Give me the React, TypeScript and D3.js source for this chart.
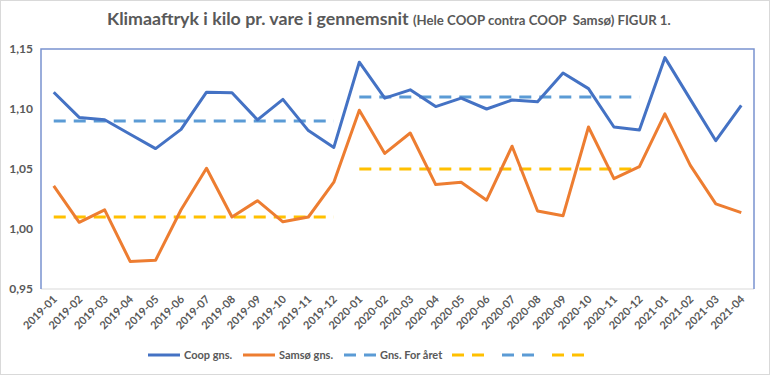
import React from "react";
import * as d3 from "d3";

const months = [
  "2019-01","2019-02","2019-03","2019-04","2019-05","2019-06","2019-07","2019-08","2019-09","2019-10","2019-11","2019-12",
  "2020-01","2020-02","2020-03","2020-04","2020-05","2020-06","2020-07","2020-08","2020-09","2020-10","2020-11","2020-12",
  "2021-01","2021-02","2021-03","2021-04",
];
const coop = [
  1.114,1.093,1.091,1.079,1.067,1.083,1.114,1.1135,1.091,1.108,1.082,1.068,
  1.139,1.109,1.116,1.102,1.109,1.100,1.1075,1.106,1.130,1.117,1.085,1.0825,
  1.1428,1.108,1.0736,1.103,
];
const samso = [
  1.036,1.0056,1.016,0.973,0.974,1.016,1.0506,1.010,1.0236,1.006,1.010,1.039,
  1.099,1.063,1.080,1.037,1.039,1.024,1.069,1.015,1.011,1.085,1.042,1.052,
  1.096,1.053,1.021,1.0136,
];
// yearly averages
const coopAvg2019 = { from: "2019-01", to: "2019-12", value: 1.09 };
const samsoAvg2019 = { from: "2019-01", to: "2019-12", value: 1.01 };
const coopAvg2020 = { from: "2020-01", to: "2020-12", value: 1.11 };
const samsoAvg2020 = { from: "2020-01", to: "2020-12", value: 1.05 };
const yTicks = [0.95, 1.0, 1.05, 1.1, 1.15];

const W = 770, H = 375;
const M = { left: 41, right: 754, top: 49, bottom: 289 };
const FONT = "Lato, 'Open Sans', sans-serif";
const GREY = "#595959";
const C_COOP = "#4472C4";
const C_SAMSO = "#ED7D31";
const C_AVG_BLUE = "#5B9BD5";
const C_AVG_YEL = "#FFC000";

export default function App() {
  const x = d3.scaleBand<string>().domain(months).range([M.left, M.right]);
  const xc = (m: string) => (x(m) as number) + x.bandwidth() / 2;
  const y = d3.scaleLinear().domain([0.95, 1.15]).range([M.bottom, M.top]);
  const line = d3.line<number>().x((_, i) => xc(months[i])).y((d) => y(d));
  const fmt = (v: number) => v.toFixed(2).replace(".", ",");

  const avgs = [
    { ...coopAvg2019, color: C_AVG_BLUE },
    { ...samsoAvg2019, color: C_AVG_YEL },
    { ...coopAvg2020, color: C_AVG_BLUE },
    { ...samsoAvg2020, color: C_AVG_YEL },
  ];

  const legendY = 355;
  const legend = [
    { x: 148, color: C_COOP, dash: false, label: "Coop gns." },
    { x: 243, color: C_SAMSO, dash: false, label: "Samsø gns." },
    { x: 344, color: C_AVG_BLUE, dash: true, label: "Gns. For året" },
    { x: 452, color: C_AVG_YEL, dash: true, label: "" },
    { x: 502, color: C_AVG_BLUE, dash: true, label: "" },
    { x: 552, color: C_AVG_YEL, dash: true, label: "" },
  ];

  return (
    <svg width={W} height={H} style={{ position: "absolute", left: 0, top: 0 }} fontFamily={FONT}>
      <rect x={0.5} y={0.5} width={W - 1} height={H - 1} fill="#fff" stroke="#D9D9D9" />
      <text x={107} y={25} fill={GREY} fontWeight="bold" xmlSpace="preserve" style={{ whiteSpace: "pre" }}>
        <tspan fontSize={17.8}>Klimaaftryk i kilo pr. vare i gennemsnit </tspan>
        <tspan fontSize={13.2}>{"(Hele COOP contra COOP  Samsø) FIGUR 1."}</tspan>
      </text>
      <line x1={M.left} x2={M.right} y1={M.bottom} y2={M.bottom} stroke="#D9D9D9" strokeWidth={1} />
      <path
        d={`M${M.left},${M.bottom}V${M.top}H${M.right}V${M.bottom}`}
        fill="none"
        stroke="#7A93CF"
        strokeWidth={1.5}
      />
      {yTicks.map((t) => (
        <text key={t} x={33} y={y(t)} dy="0.35em" textAnchor="end" fontSize={12} fontWeight="bold" fill={GREY}>
          {fmt(t)}
        </text>
      ))}
      {months.map((m) => (
        <text
          key={m}
          transform={`translate(${xc(m) + 4},${M.bottom + 11}) rotate(-45)`}
          textAnchor="end"
          fontSize={11}
          fontWeight="bold"
          fill={GREY}
        >
          {m}
        </text>
      ))}
      {avgs.map((a, i) => (
        <line
          key={i}
          x1={xc(a.from)}
          x2={xc(a.to)}
          y1={y(a.value)}
          y2={y(a.value)}
          stroke={a.color}
          strokeWidth={3}
          strokeDasharray="12,8"
        />
      ))}
      <path d={line(samso) as string} fill="none" stroke={C_SAMSO} strokeWidth={3} strokeLinejoin="round" />
      <path d={line(coop) as string} fill="none" stroke={C_COOP} strokeWidth={3} strokeLinejoin="round" />
      {legend.map((l, i) => (
        <g key={i}>
          <line
            x1={l.x}
            x2={l.x + 32}
            y1={legendY}
            y2={legendY}
            stroke={l.color}
            strokeWidth={3}
            strokeDasharray={l.dash ? "12,8" : undefined}
          />
          {l.label && (
            <text x={l.x + 36} y={legendY} dy="0.35em" fontSize={11} fontWeight="bold" fill={GREY}>
              {l.label}
            </text>
          )}
        </g>
      ))}
    </svg>
  );
}
